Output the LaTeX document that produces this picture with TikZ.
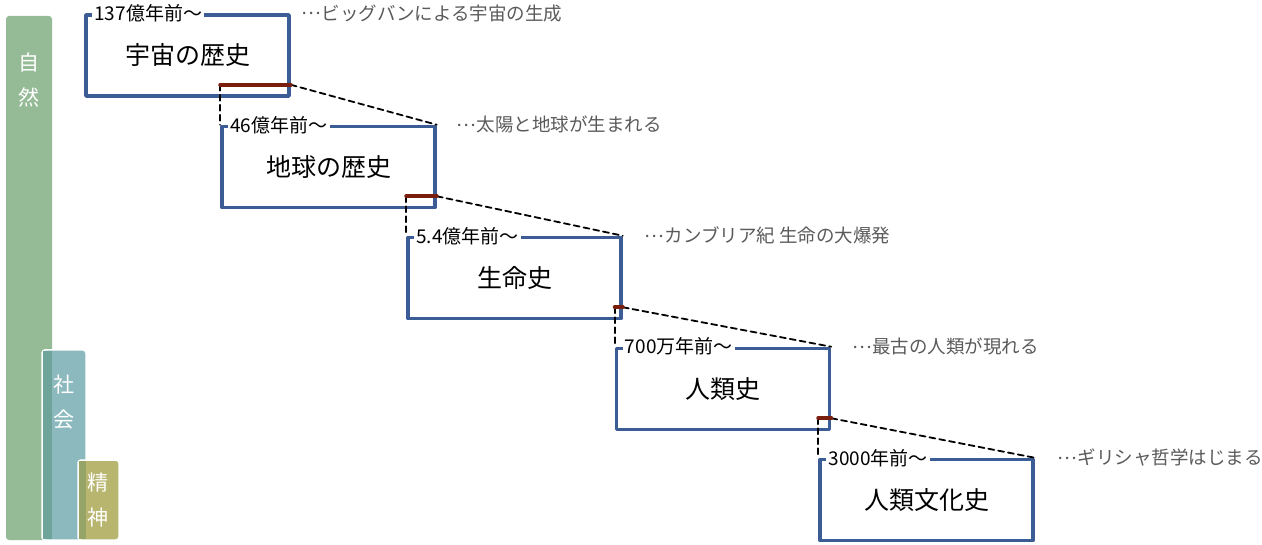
\documentclass[tikz,border=0pt]{standalone}
\usepackage{fontspec}
\setmainfont{Noto Sans CJK JP}
\usetikzlibrary{positioning}
\definecolor{boxblue}{HTML}{3B5C94}
\definecolor{cutred}{HTML}{7A1E0E}
\definecolor{natgreen}{HTML}{95BB96}
\definecolor{socteal}{HTML}{8CB9BE}
\definecolor{mixteal}{HTML}{6EA49A}
\definecolor{mindolive}{HTML}{B7B56E}
\definecolor{mixolive}{HTML}{96A468}
\definecolor{notegray}{HTML}{5A5A5A}
\newcommand\lead{\raisebox{0.3em}{…}}
\begin{document}
\begin{tikzpicture}[x=1pt,y=-1pt,line join=round,line cap=round,
	era/.style={draw=boxblue,line width=3.5pt,minimum width=213pt,minimum height=81pt,inner sep=0pt,font=\fontsize{25}{28}\selectfont},
	since/.style={fill=white,inner sep=2pt,font=\fontsize{19}{22}\selectfont},
	note/.style={text=notegray,inner sep=0pt,font=\fontsize{18.5}{22}\selectfont},
	cut/.style={draw=cutred,line width=4pt},
	link/.style={line width=1.8pt,dash pattern=on 6pt off 4pt},
	bartext/.style={text=white,align=center,font=\fontsize{21}{35}\selectfont}]
	\useasboundingbox (0,0) rectangle (1262,545);
	% bars on the left
	\fill[natgreen,rounded corners=3pt] (6,16) rectangle (52,540);
	\node[bartext] (nat) at (29,80) {自\\然};
	\filldraw[fill=socteal,draw=white,line width=1.5pt,rounded corners=3pt] (42,350) rectangle (86,540);
	\fill[mixteal] (42.8,351) rectangle (52,539.2);
	\node[bartext] (soc) at (64,402) {社\\会};
	\filldraw[fill=mindolive,draw=white,line width=1.5pt,rounded corners=3pt] (78,460) rectangle (119,540);
	\fill[mixolive] (78.8,461) rectangle (86,539.2);
	\node[bartext] (mind) at (98,500) {精\\神};
	% eras
	\node[era,minimum width=203pt] (b1) at (187.5,55.5) {宇宙の歴史};
	\node[era] (b2) at (328.5,167) {地球の歴史};
	\node[era] (b3) at (514.5,278) {生命史};
	\node[era] (b4) at (723,389) {人類史};
	\node[era] (b5) at (926.5,500) {人類文化史};
	\node[since,right=8pt of b1.north west] (t1) {137億年前〜};
	\node[since,right=8pt of b2.north west] (t2) {46億年前〜};
	\node[since,right=8pt of b3.north west] (t3) {5.4億年前〜};
	\node[since,right=8pt of b4.north west] (t4) {700万年前〜};
	\node[since,right=8pt of b5.north west] (t5) {3000年前〜};
	\node[note,right=11pt of b1.north east] (n1) {\lead ビッグバンによる宇宙の生成};
	\node[note,right=20pt of b2.north east] (n2) {\lead 太陽と地球が生まれる};
	\node[note,right=22pt of b3.north east] (n3) {\lead カンブリア紀 生命の大爆発};
	\node[note,right=21pt of b4.north east] (n4) {\lead 最古の人類が現れる};
	\node[note,right=23pt of b5.north east] (n5) {\lead ギリシャ哲学はじまる};
	% zoom from one era into the next
	\foreach \i/\j in {1/2,2/3,3/4,4/5}{
		\coordinate (c\i b) at ([yshift=13pt]b\i.south east);
		\coordinate (c\i a) at (c\i b -| b\j.west);
		\draw[link] (c\i a) -- (b\j.north west);
		\draw[link] (c\i b) -- (b\j.north east);
		\draw[cut] (c\i a) -- (c\i b);
	}
\end{tikzpicture}
\end{document}
